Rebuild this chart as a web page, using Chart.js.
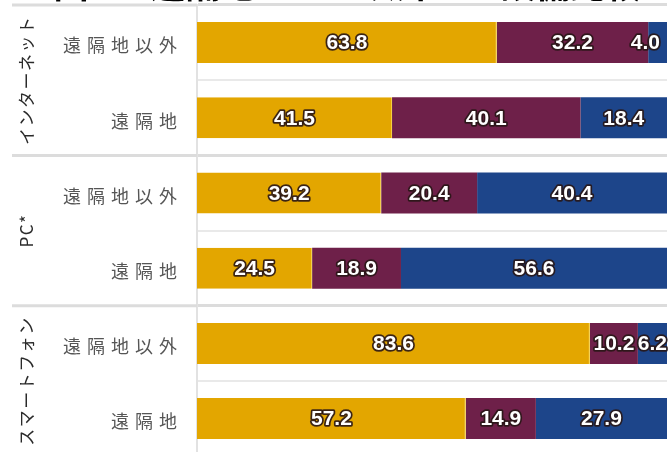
<!DOCTYPE html>
<html lang="ja">
<head>
<meta charset="utf-8">
<script src="https://cdn.jsdelivr.net/npm/chart.js@4.4.1/dist/chart.umd.min.js"></script>
<style>
  html, body { margin: 0; padding: 0; background: #fff; }
  #frame { position: relative; width: 669px; height: 452px; overflow: hidden; background: #fff; }
  #chart { position: absolute; left: 0; top: -35px; }
</style>
</head>
<body>
<div id="frame"><canvas id="chart" width="669" height="516"></canvas></div>
<script>
// Figure title and group names
const title = '図2-4 遠隔地とそれ以外での設備比較';
const groups = ['インターネット', 'PC*', 'スマートフォン'];

// One bar per row; every two rows form one device group
const categories = ['遠隔地以外', '遠隔地', '遠隔地以外', '遠隔地', '遠隔地以外', '遠隔地'];

// Shares (%) of the three segments in each row
const seriesNames = ['区分A', '区分B', '区分C'];
const yellowValues = [63.8, 41.5, 39.2, 24.5, 83.6, 57.2];
const purpleValues = [32.2, 40.1, 20.4, 18.9, 10.2, 14.9];
const blueValues   = [4.0, 18.4, 40.4, 56.6, 6.2, 27.9];

const JP_FONT = '"Noto Sans CJK JP", "Noto Sans", sans-serif';
const NUM_FONT = '"Liberation Sans", Arial, sans-serif';
const GROUP_LINE = '#dcdcdc';
const ROW_LINE = '#e9e9e9';

// Wider letter spacing for the row labels on the category axis
const tickSpacing = {
  id: 'tickSpacing',
  beforeDraw(chart) { chart.ctx.letterSpacing = '6px'; },
  beforeDatasetsDraw(chart) { chart.ctx.letterSpacing = '0px'; },
  afterDraw(chart) { chart.ctx.letterSpacing = '0px'; }
};

// Value labels centred on each segment: white text with a dark outline
const valueLabels = {
  id: 'valueLabels',
  afterDatasetsDraw(chart) {
    const ctx = chart.ctx;
    ctx.save();
    ctx.letterSpacing = '0px';
    ctx.font = 'bold 21px ' + NUM_FONT;
    ctx.textAlign = 'center';
    ctx.textBaseline = 'middle';
    ctx.lineJoin = 'round';
    ctx.lineWidth = 3.5;
    ctx.strokeStyle = 'rgba(40,22,22,0.9)';
    ctx.fillStyle = '#ffffff';
    chart.data.datasets.forEach((ds, di) => {
      chart.getDatasetMeta(di).data.forEach((bar, i) => {
        const p = bar.getProps(['x', 'base', 'y'], true);
        const text = ds.data[i].toFixed(1);
        const w = ctx.measureText(text).width;
        let cx = (p.x + p.base) / 2;
        // keep labels that would run off the canvas inside it
        if (cx + w / 2 > chart.width) cx = chart.width - 9 - w / 2;
        ctx.strokeText(text, cx, p.y + 1);
        ctx.fillText(text, cx, p.y + 1);
      });
    });
    ctx.restore();
  }
};

// Title, rotated group names and the group dividers across the label column
const groupDecor = {
  id: 'groupDecor',
  afterDraw(chart) {
    const ctx = chart.ctx;
    const y = chart.scales.y;
    const area = chart.chartArea;
    const pitch = y.getPixelForValue(1) - y.getPixelForValue(0);
    ctx.save();
    ctx.letterSpacing = '0px';

    // dividers between groups, continued to the left of the axis
    ctx.strokeStyle = GROUP_LINE;
    ctx.lineWidth = 3;
    for (let g = 0; g <= groups.length; g++) {
      const yy = y.getPixelForValue(g * 2) - pitch / 2;
      ctx.beginPath();
      ctx.moveTo(12, yy);
      ctx.lineTo(area.left, yy);
      ctx.stroke();
    }

    // group names, reading bottom to top
    ctx.fillStyle = '#2a2a2a';
    ctx.font = '17px ' + JP_FONT;
    ctx.letterSpacing = '1.5px';
    ctx.textAlign = 'center';
    ctx.textBaseline = 'middle';
    groups.forEach((name, g) => {
      const cy = (y.getPixelForValue(g * 2) + y.getPixelForValue(g * 2 + 1)) / 2;
      ctx.save();
      ctx.translate(27, cy);
      ctx.rotate(-Math.PI / 2);
      ctx.fillText(name, 0, 0);
      ctx.restore();
    });

    // figure title above the plot
    ctx.letterSpacing = '0px';
    ctx.fillStyle = '#000';
    ctx.font = 'bold 35px ' + JP_FONT;
    ctx.textAlign = 'center';
    ctx.textBaseline = 'bottom';
    ctx.fillText(title, 347, area.top - 3);
    ctx.restore();
  }
};

new Chart(document.getElementById('chart'), {
  type: 'bar',
  data: {
    labels: categories,
    datasets: [
      { label: seriesNames[0], data: yellowValues, backgroundColor: '#E3A600',
        borderColor: '#F6CF3C', borderWidth: { right: 1 }, borderSkipped: false },
      { label: seriesNames[1], data: purpleValues, backgroundColor: '#6E2049', borderWidth: 0 },
      { label: seriesNames[2], data: blueValues, backgroundColor: '#1D458A', borderWidth: 0 }
    ]
  },
  options: {
    responsive: false,
    animation: false,
    devicePixelRatio: 1,
    indexAxis: 'y',
    layout: { padding: { top: 40, bottom: 10, left: 0, right: 2 } },
    datasets: { bar: { categoryPercentage: 1, barPercentage: 0.545 } },
    plugins: {
      legend: { display: false },
      title: { display: false },
      tooltip: { enabled: false }
    },
    scales: {
      x: { stacked: true, min: 0, max: 100, display: false },
      y: {
        stacked: true,
        afterFit(scale) { scale.width = 197; },
        border: { display: true, color: '#e2e2e2', width: 2 },
        grid: {
          offset: true,
          drawTicks: false,
          color: (c) => (c.index % 2 === 0 ? GROUP_LINE : ROW_LINE),
          lineWidth: (c) => (c.index % 2 === 0 ? 3 : 2)
        },
        ticks: {
          padding: 14,
          labelOffset: 3,
          color: '#555555',
          font: { size: 18, family: JP_FONT }
        }
      }
    }
  },
  plugins: [tickSpacing, valueLabels, groupDecor]
});
</script>
</body>
</html>
